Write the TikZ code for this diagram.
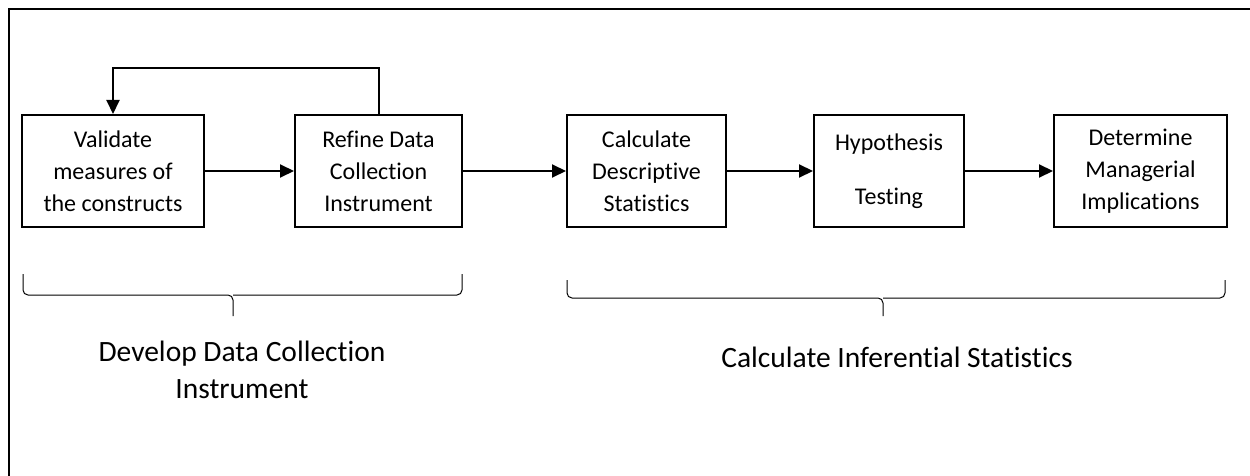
\documentclass[tikz,border=0pt]{standalone}
\usepackage{fontspec}
\setmainfont{Carlito}[Ligatures=NoCommon]
\usetikzlibrary{arrows.meta}

\begin{document}
\begin{tikzpicture}[x=1pt,y=-1pt,
  proc/.style={draw, line width=2pt, minimum height=112pt, inner sep=0pt, align=center, font=\fontsize{24}{32}\selectfont},
  arr/.style={line width=2pt, -{Triangle[length=14pt,width=13pt]}},
  brace/.style={line width=1pt, rounded corners=5pt},
  lbl/.style={align=center, font=\fontsize{29.5}{37}\selectfont}]
\useasboundingbox (0,0) rectangle (1250,476);
\clip (0,0) rectangle (1250,476);
\draw[line width=2.5pt] (9,520) -- (9,9) -- (1290,9);

\node[proc, minimum width=182pt] (val) at (113,171) {Validate\\measures of\\the constructs};
\node[proc, minimum width=167pt] (ref) at (378.5,171) {Refine Data\\Collection\\Instrument};
\node[proc, minimum width=159pt] (desc) at (646.5,171) {Calculate\\Descriptive\\Statistics};
\node[proc, minimum width=150pt] (hyp) at (889,171) {Hypothesis\\[22pt]Testing};
\node[proc, minimum width=173pt] (impl) at (1140.5,171) {Determine\\Managerial\\Implications};

\coordinate (loop) at (113,68);
\draw[arr] (val) -- (ref);
\draw[arr] (ref.north) |- (loop) -- (val.north);
\draw[arr] (ref) -- (desc);
\draw[arr] (desc) -- (hyp);
\draw[arr] (hyp) -- (impl);

\draw[brace] (23,274) -- (23,295) -- (233,295) -- (233,316);
\draw[brace] (462,274) -- (462,295) -- (233,295);
\draw[brace] (567,280) -- (567,298) -- (883,298) -- (883,316);
\draw[brace] (1225,280) -- (1225,298) -- (883,298);

\node[lbl] (dev) at (242,370) {Develop Data Collection\\Instrument};
\node[lbl, anchor=base] (inf) at (897,367) {Calculate Inferential Statistics};
\end{tikzpicture}
\end{document}
